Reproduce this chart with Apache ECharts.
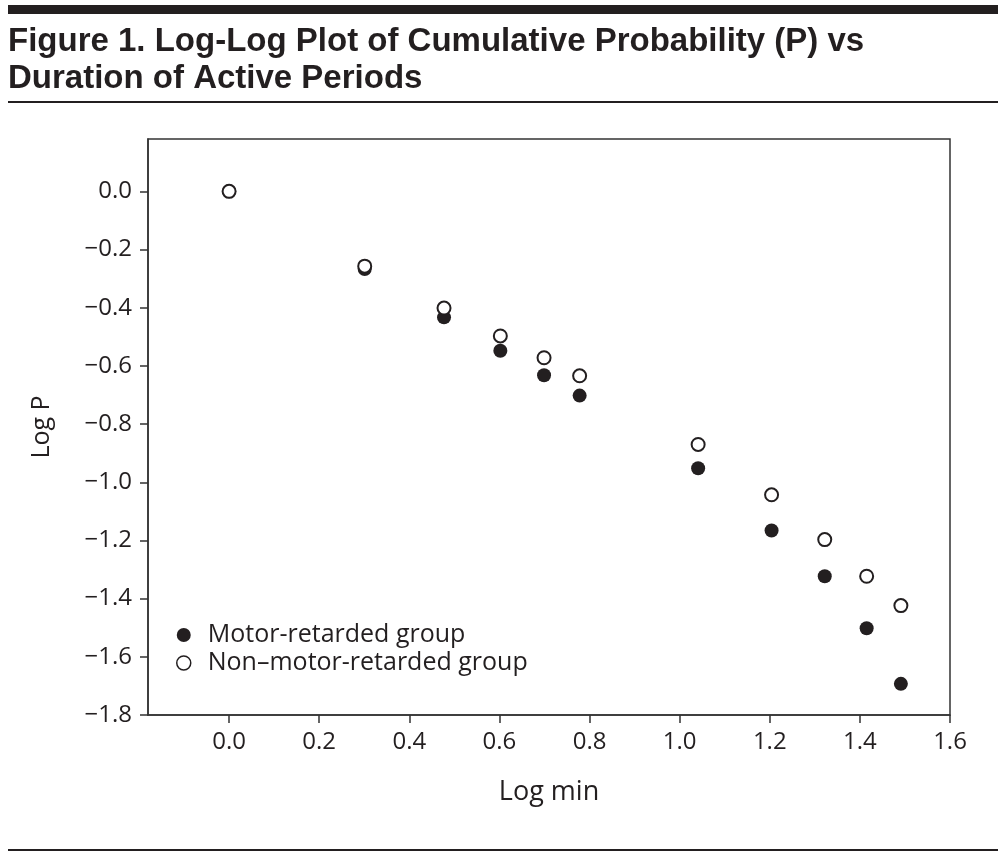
<!DOCTYPE html>
<html><head><meta charset="utf-8">
<script src="https://cdn.jsdelivr.net/npm/echarts@6/dist/echarts.min.js"></script>
<style>html,body{margin:0;padding:0;background:#fff}#c{width:998px;height:856px}</style>
</head><body><div id="c"></div>
<script>
const titleText = "Figure 1. Log-Log Plot of Cumulative Probability (P) vs\nDuration of Active Periods";
const xName = "Log min";
const yName = "Log P";
const seriesNames = ["Motor-retarded group", "Non\u2013motor-retarded group"];
const xTicks = [0, 0.2, 0.4, 0.6, 0.8, 1.0, 1.2, 1.4, 1.6];
const yTicks = [-1.8, -1.6, -1.4, -1.2, -1.0, -0.8, -0.6, -0.4, -0.2, 0];
const logMin = [0, 0.301, 0.477, 0.602, 0.699, 0.778, 1.041, 1.204, 1.322, 1.415, 1.491];
const motorLogP = [0, -0.267, -0.433, -0.548, -0.632, -0.702, -0.952, -1.166, -1.323, -1.502, -1.693];
const nonMotorLogP = [0, -0.257, -0.401, -0.497, -0.572, -0.634, -0.870, -1.043, -1.197, -1.323, -1.424];

const ink = '#231f20';
const font = '"Open Sans", "Liberation Sans", sans-serif';
const chart = echarts.init(document.getElementById('c'), null, {renderer: 'canvas'});
const pair = (xs, ys) => xs.map((x, i) => [x, ys[i]]);
const fmt = v => (v < 0 ? '\u2212' : '') + Math.abs(v).toFixed(1);

chart.setOption({
  backgroundColor: '#fff',
  animation: false,
  title: {
    text: titleText, left: 8, top: 23, padding: 0,
    textStyle: {fontFamily: '"Liberation Sans Narrow", "Liberation Sans", sans-serif', fontWeight: 'bold', fontSize: 33, lineHeight: 37, color: ink}
  },
  graphic: [
    {type: 'rect', shape: {x: 8, y: 5, width: 990, height: 9}, style: {fill: ink}, silent: true},
    {type: 'rect', shape: {x: 8, y: 101, width: 990, height: 2}, style: {fill: ink}, silent: true},
    {type: 'rect', shape: {x: 8, y: 849, width: 990, height: 2}, style: {fill: ink}, silent: true}
  ],
  legend: {
    left: 171, top: 616, orient: 'vertical', itemGap: 0, itemWidth: 14, itemHeight: 14,
    textStyle: {fontFamily: font, fontSize: 25, lineHeight: 28, color: ink, padding: [0, 0, 0, 12]},
    data: [
      {name: seriesNames[0], icon: 'circle', itemStyle: {color: ink, opacity: 1}},
      {name: seriesNames[1], icon: 'circle', itemStyle: {color: '#fff', borderColor: ink, borderWidth: 1.5, opacity: 1}}
    ]
  },
  grid: {left: 148, right: 48, top: 139, bottom: 141, show: true, borderColor: '#333', borderWidth: 1.5, containLabel: false},
  xAxis: {
    type: 'value', min: -0.18, max: 1.6,
    name: xName, nameLocation: 'middle', nameGap: 64,
    nameTextStyle: {fontFamily: font, fontSize: 27, color: ink},
    axisLine: {show: true, onZero: false, lineStyle: {color: '#333', width: 1.5}},
    axisTick: {show: true, inside: false, length: 8, lineStyle: {color: '#333', width: 1.5}, customValues: xTicks},
    axisLabel: {fontFamily: font, fontSize: 24, color: ink, margin: 15, formatter: fmt, customValues: xTicks},
    splitLine: {show: false}
  },
  yAxis: {
    type: 'value', min: -1.8, max: 0.18,
    name: yName, nameLocation: 'middle', nameGap: 94, nameRotate: 90,
    nameTextStyle: {fontFamily: font, fontSize: 25, color: ink},
    axisLine: {show: true, onZero: false, lineStyle: {color: '#333', width: 1.5}},
    axisTick: {show: true, inside: false, length: 8, lineStyle: {color: '#333', width: 1.5}, customValues: yTicks},
    axisLabel: {fontFamily: font, fontSize: 24, color: ink, margin: 16, formatter: fmt, customValues: yTicks},
    splitLine: {show: false}
  },
  series: [
    {name: seriesNames[0], type: 'scatter', symbol: 'circle', symbolSize: 14, data: pair(logMin, motorLogP), itemStyle: {color: ink, opacity: 1}, emphasis: {disabled: true}, z: 2},
    {name: seriesNames[1], type: 'scatter', symbol: 'circle', symbolSize: 13, data: pair(logMin, nonMotorLogP), itemStyle: {color: '#fff', borderColor: ink, borderWidth: 2, opacity: 1}, emphasis: {disabled: true}, z: 3}
  ]
});
</script></body></html>
